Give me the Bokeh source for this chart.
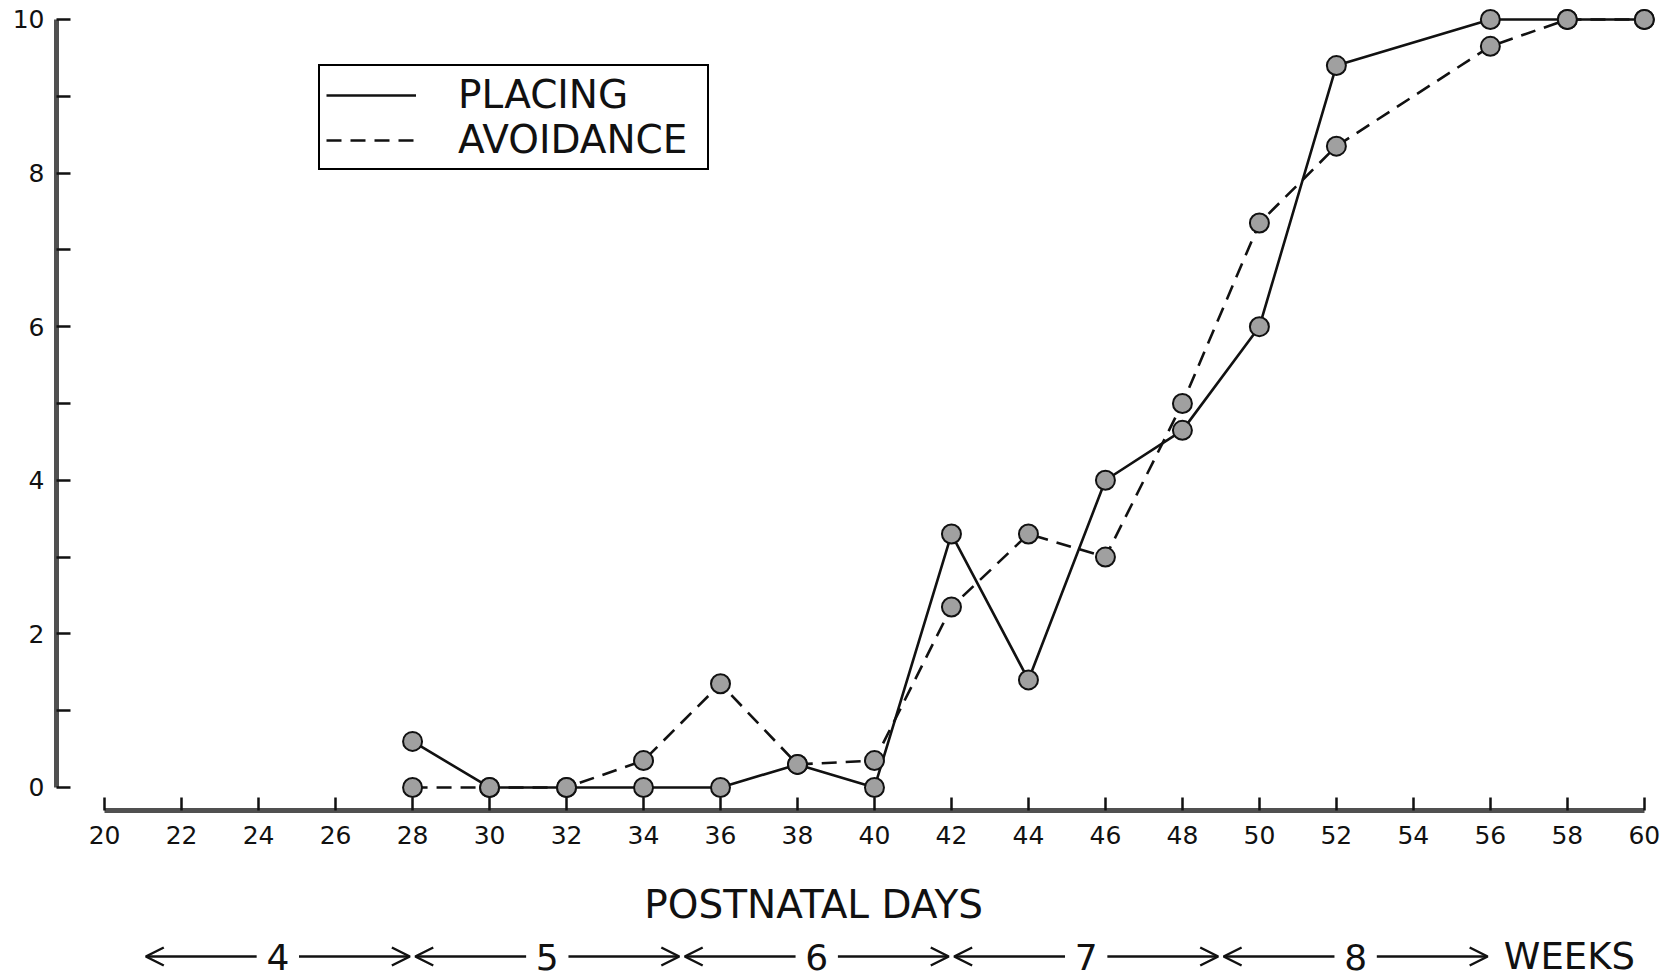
from bokeh.plotting import figure
from bokeh.models import (Range1d, FixedTicker, Legend, LegendItem, Arrow,
                          OpenHead, ColumnDataSource)
from bokeh.layouts import column
from bokeh.embed import file_html
from bokeh.resources import INLINE
from bokeh.core.properties import value

# ---------------- data ----------------
days = [28, 30, 32, 34, 36, 38, 40, 42, 44, 46, 48, 50, 52, 56, 58, 60]
placing = [0.6, 0.0, 0.0, 0.0, 0.0, 0.3, 0.0, 3.3, 1.4, 4.0, 4.65, 6.0, 9.4, 10.0, 10.0, 10.0]
avoidance = [0.0, 0.0, 0.0, 0.35, 1.35, 0.3, 0.35, 2.35, 3.3, 3.0, 5.0, 7.35, 8.35, 9.65, 10.0, 10.0]

x_ticks = [20, 22, 24, 26, 28, 30, 32, 34, 36, 38, 40, 42, 44, 46, 48, 50, 52, 54, 56, 58, 60]
y_major_ticks = [0, 2, 4, 6, 8, 10]
y_minor_ticks = [1, 3, 5, 7, 9]

week_labels = ["4", "5", "6", "7", "8"]
week_start = [21, 28, 35, 42, 49]
week_end = [28, 35, 42, 49, 56]

x_title = "POSTNATAL DAYS"
weeks_title = "WEEKS"

FONT = "DejaVu Sans"
INK = "#111111"

x_range = Range1d(18.75, 60.42)

# ---------------- main chart ----------------
p = figure(width=1664, height=858, x_range=x_range, y_range=Range1d(-0.30, 10.143),
           output_backend="svg", toolbar_location=None,
           min_border_left=56, min_border_right=4, min_border_top=8, min_border_bottom=48)
p.grid.visible = False
p.outline_line_color = None
p.background_fill_color = "white"
p.border_fill_color = "white"

# y axis
ya = p.yaxis[0]
ya.ticker = FixedTicker(ticks=y_major_ticks, minor_ticks=y_minor_ticks)
ya.bounds = (y_major_ticks[0], y_major_ticks[-1])
ya.axis_line_width = 5
ya.axis_line_color = "#505050"
ya.major_tick_in = 14
ya.major_tick_out = 0
ya.minor_tick_in = 14
ya.minor_tick_out = 0
ya.major_tick_line_width = 2.5
ya.minor_tick_line_width = 2.5
ya.major_tick_line_color = INK
ya.minor_tick_line_color = INK
ya.major_label_text_font = FONT
ya.major_label_text_font_size = "25px"
ya.major_label_text_color = INK
ya.major_label_standoff = 12

# x axis
xa = p.xaxis[0]
xa.ticker = FixedTicker(ticks=x_ticks, minor_ticks=[])
xa.bounds = (x_ticks[0], x_ticks[-1])
xa.axis_line_width = 5
xa.axis_line_color = "#505050"
xa.major_tick_in = 13
xa.major_tick_out = 0
xa.major_tick_line_width = 2.5
xa.major_tick_line_color = INK
xa.major_label_text_font = FONT
xa.major_label_text_font_size = "25px"
xa.major_label_text_color = INK
xa.major_label_standoff = 15

# series
pl_line = p.line(days, placing, line_color=INK, line_width=2.6)
av_line = p.line(days, avoidance, line_color=INK, line_width=2.6, line_dash="15 9")
p.scatter(days, avoidance, size=19, marker="circle", fill_color="#a0a0a0",
          line_color=INK, line_width=2)
p.scatter(days, placing, size=19, marker="circle", fill_color="#a0a0a0",
          line_color=INK, line_width=2)

legend = Legend(items=[LegendItem(label="PLACING", renderers=[pl_line]),
                       LegendItem(label="AVOIDANCE", renderers=[av_line])],
                location=(262, 640), orientation="vertical",
                border_line_color="#000000", border_line_width=2.5, border_line_alpha=1.0,
                background_fill_color="white", background_fill_alpha=1.0,
                label_text_font=FONT, label_text_font_size="39px",
                label_text_color=INK, label_standoff=42, label_width=243,
                glyph_width=90, glyph_height=30, padding=6, spacing=0, margin=0)
p.add_layout(legend, "center")

# ---------------- axis title + weeks row ----------------
p2 = figure(width=1664, height=119, x_range=x_range, y_range=Range1d(0, 119),
            output_backend="svg", toolbar_location=None,
            x_axis_location=None, y_axis_location=None,
            min_border_left=56, min_border_right=4, min_border_top=0, min_border_bottom=0)
p2.grid.visible = False
p2.outline_line_color = None
p2.background_fill_color = "white"
p2.border_fill_color = "white"

p2.text(x=[38.42], y=[73], text=[x_title], text_font=value(FONT),
        text_font_size="39px", text_align="center", text_baseline="middle",
        text_color=INK)

centers = [(s + e) / 2 for s, e in zip(week_start, week_end)]
row_y = [21] * len(centers)
gap = 0.55
inset = 0.07
left_src = ColumnDataSource(dict(xs=[c - gap for c in centers],
                                 xe=[s + inset for s in week_start], y=row_y))
right_src = ColumnDataSource(dict(xs=[c + gap for c in centers],
                                  xe=[e - inset for e in week_end], y=row_y))
for src in (left_src, right_src):
    p2.add_layout(Arrow(end=OpenHead(size=18, line_width=2.5, line_color=INK),
                        x_start="xs", y_start="y", x_end="xe", y_end="y",
                        source=src, line_width=2.5, line_color=INK))

p2.text(x=centers, y=row_y, text=week_labels, text_font=value(FONT),
        text_font_size="36px", text_align="center", text_baseline="middle",
        text_color=INK)
p2.text(x=[week_end[-1] + 0.35], y=[row_y[0]], text=[weeks_title], text_font=value(FONT),
        text_font_size="37px", text_align="left", text_baseline="middle",
        text_color=INK)

layout = column(p, p2, spacing=0)
open("out.html", "w").write(file_html(layout, INLINE))
